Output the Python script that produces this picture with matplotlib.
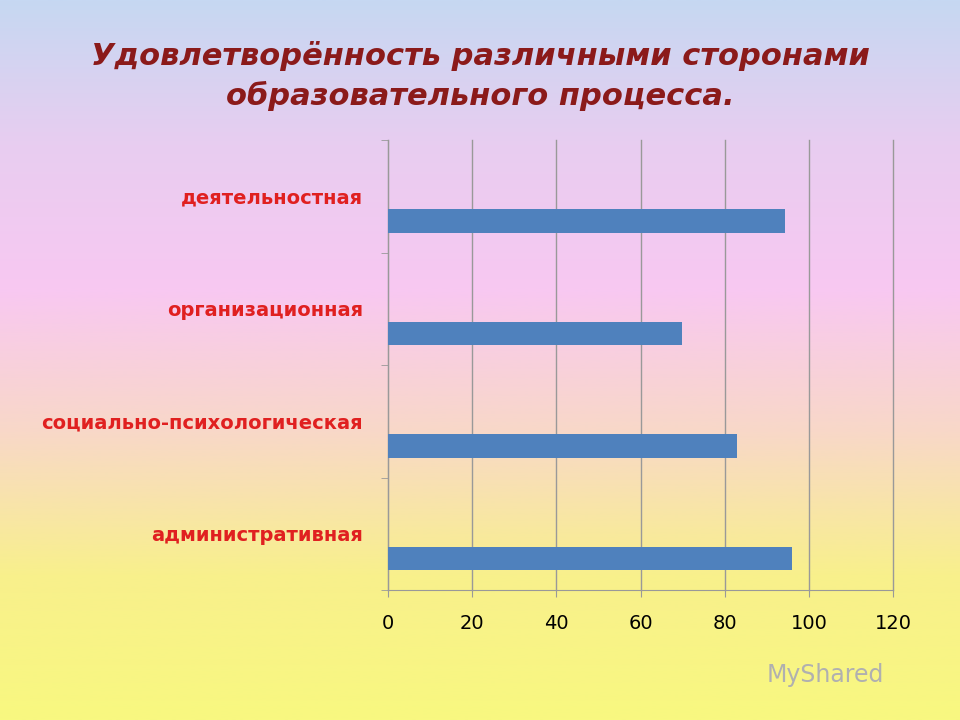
import numpy as np
import matplotlib
matplotlib.use("Agg")
import matplotlib.pyplot as plt
from matplotlib.colors import LinearSegmentedColormap

categories = ["деятельностная", "организационная", "социально-психологическая", "административная"]
values = [94.3, 69.8, 82.9, 96.0]
xticks = [0, 20, 40, 60, 80, 100, 120]

fig = plt.figure(figsize=(9.6, 7.2), dpi=100)
bg = fig.add_axes([0, 0, 1, 1], zorder=-1)
cmap = LinearSegmentedColormap.from_list("bg", ["#c6d8f2", "#e8cdf0", "#f8c8f2", "#f8d8c8", "#f8f08c", "#f8f880"])
grad = np.linspace(0, 1, 256).reshape(-1, 1)
bg.imshow(grad, aspect="auto", cmap=cmap, extent=[0, 1, 0, 1], origin="upper")
bg.axis("off")

ax = fig.add_axes([388/960, 1-590/720, 505/960, 450/720])
ax.set_facecolor("none")
pos = np.arange(len(categories))
ax.barh(pos + 0.22, values, height=0.21, color="#4f81bd", zorder=3)
ax.set_ylim(len(categories) - 0.5, -0.5)
ax.set_xlim(0, 120)
ax.set_xticks(xticks)
ax.set_xticklabels([str(t) for t in xticks], fontsize=14)
ax.set_yticks(pos)
ax.set_yticklabels(categories, fontsize=14, fontweight="bold", color="#e02020")
ax.set_yticks(np.arange(len(categories) + 1) - 0.5, minor=True)
ax.tick_params(axis="y", which="major", length=0, pad=18)
ax.tick_params(axis="y", which="minor", length=5, color="#999999")
ax.tick_params(axis="x", length=5, color="#999999", pad=12)
ax.grid(axis="x", color="#999999", linewidth=1, zorder=0)
for gl in ax.get_xgridlines():
    gl.set_clip_on(False)
for s in ["top", "right"]:
    ax.spines[s].set_visible(False)
for s in ["left", "bottom"]:
    ax.spines[s].set_color("#999999")

fig.text(0.5, 1-76/720, "Удовлетворённость различными сторонами\nобразовательного процесса.",
         ha="center", va="center", fontsize=22, fontweight="bold", style="italic",
         color="#8b1a1a", linespacing=1.45)
fig.text(0.86, 1-675/720, "MyShared", ha="center", va="center", fontsize=17, color="#b0b0b0")
fig.savefig("out.png", dpi=100)
